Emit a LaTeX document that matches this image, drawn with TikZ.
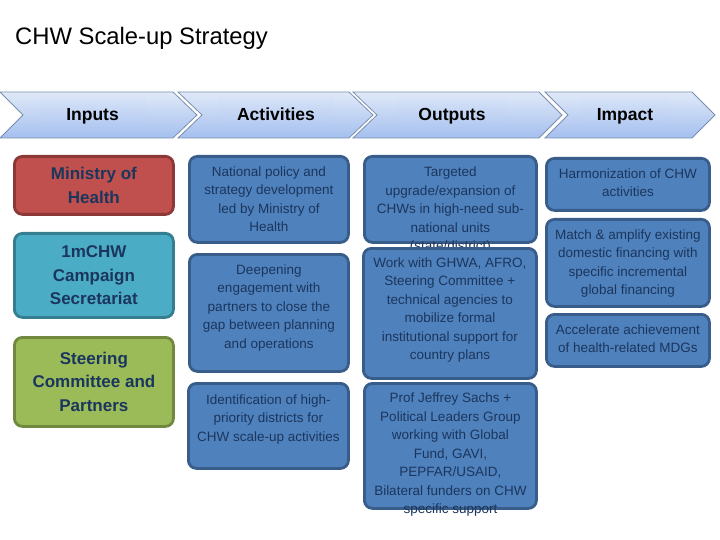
\documentclass[tikz,border=0pt]{standalone}
\usepackage{fontspec}
\setmainfont{Liberation Sans}
\definecolor{boxblue}{HTML}{4F81BD}
\definecolor{boxblueline}{HTML}{385D8A}
\definecolor{navy}{HTML}{1B365D}
\definecolor{inred}{HTML}{C0504D}
\definecolor{inredline}{HTML}{8C3836}
\definecolor{incyan}{HTML}{4BACC6}
\definecolor{incyanline}{HTML}{357D91}
\definecolor{ingreen}{HTML}{9BBB59}
\definecolor{ingreenline}{HTML}{71893F}
\definecolor{chevtop}{HTML}{E0E9F8}
\definecolor{chevbot}{HTML}{A4BFEE}
\definecolor{chevline}{HTML}{7A8FB0}
\definecolor{labtop}{HTML}{D6E2F7}
\definecolor{labbot}{HTML}{B0C8F1}
\tikzset{
  chev/.style={top color=chevtop, bottom color=chevbot, draw=chevline, line width=0.8pt},
  chevlab/.style={anchor=base, font=\fontsize{17.5}{20}\selectfont\bfseries, text=black, inner sep=0pt},
  labrect/.style={top color=labtop, bottom color=labbot, draw=none},
  anybox/.style={rounded corners=8pt, line width=2.8pt, inner sep=0pt, anchor=north west},
  bluebox/.style={anybox, fill=boxblue, draw=boxblueline},
  inbox/.style={anybox, align=center, text=navy, font=\fontsize{17}{23.5}\selectfont\bfseries},
  txt/.style={anchor=north, align=center, inner sep=0pt, text=navy, font=\fontsize{13.5}{18.5}\selectfont},
}
\begin{document}
\begin{tikzpicture}[x=1pt,y=-1pt]
\useasboundingbox (0,0) rectangle (720,540);
\fill[white] (0,0) rectangle (720,540);

% title
\node[anchor=base west, inner sep=0pt, font=\fontsize{23.8}{27}\selectfont] (title) at (15,44.3) {CHW Scale-up Strategy};

% chevrons
\shade[chev] (0,92) -- (173,92) -- (197,115) -- (173,138) -- (0,138) -- (23,115) -- cycle;
\shade[chev] (178,92) -- (349,92) -- (373,115) -- (349,138) -- (178,138) -- (202,115) -- cycle;
\shade[chev] (353,92) -- (539,92) -- (562,115) -- (539,138) -- (353,138) -- (377,115) -- cycle;
\shade[chev] (545,92) -- (692,92) -- (715,115) -- (692,138) -- (545,138) -- (568,115) -- cycle;
\shade[labrect] (40,98) rectangle (145,128);
\shade[labrect] (218,98) rectangle (333,128);
\shade[labrect] (397,98) rectangle (507,128);
\shade[labrect] (580,98) rectangle (670,128);
\node[chevlab] (hin) at (92.5,121) {Inputs};
\node[chevlab] (hact) at (276,121) {Activities};
\node[chevlab] (hout) at (452,121) {Outputs};
\node[chevlab] (himp) at (625,121) {Impact};

% inputs
\node[inbox, fill=inred, draw=inredline, minimum width=159pt, minimum height=58pt] (i1) at (13,155) {Ministry of\\Health};
\node[inbox, fill=incyan, draw=incyanline, minimum width=159pt, minimum height=84pt] (i2) at (13,232) {1mCHW\\Campaign\\Secretariat};
\node[inbox, fill=ingreen, draw=ingreenline, minimum width=159pt, minimum height=89pt] (i3) at (13,336) {Steering\\Committee and\\Partners};

% activities
\node[bluebox, minimum width=159pt, minimum height=86pt] (a1) at (188,155) {};
\node[txt] (a1t) at ([yshift=-8pt]a1.north) {\strut National policy and\\strategy development\\led by Ministry of\\Health};
\node[bluebox, minimum width=159pt, minimum height=117pt] (a2) at (188,253) {};
\node[txt] (a2t) at ([yshift=-8pt]a2.north) {\strut Deepening\\engagement with\\partners to close the\\gap between planning\\and operations};
\node[bluebox, minimum width=160pt, minimum height=85pt] (a3) at (187,382) {};
\node[txt] (a3t) at ([yshift=-9pt]a3.north) {\strut Identification of high-\\priority districts for\\CHW scale-up activities};

% outputs
\node[bluebox, minimum width=172pt, minimum height=86pt] (o1) at (363,155) {};
\node[txt] (o1t) at ([yshift=-8.5pt]o1.north) {\strut Targeted\\upgrade/expansion of\\CHWs in high-need sub-\\national units\\(state/district)};
\node[bluebox, minimum width=173pt, minimum height=130pt] (o2) at (362,247) {};
\node[txt] (o2t) at ([yshift=-7pt]o2.north) {\strut Work with GHWA, AFRO,\\Steering Committee +\\technical agencies to\\mobilize formal\\institutional support for\\country plans};
\node[bluebox, minimum width=172pt, minimum height=125pt] (o3) at (363,382) {};
\node[txt] (o3t) at ([yshift=-7.5pt]o3.north) {\strut Prof Jeffrey Sachs +\\Political Leaders Group\\working with Global\\Fund, GAVI,\\PEPFAR/USAID,\\Bilateral funders on CHW\\specific support};

% impact
\node[bluebox, minimum width=163pt, minimum height=52pt] (p1) at (545,157) {};
\node[txt] (p1t) at ([yshift=-8pt]p1.north) {\strut Harmonization of CHW\\activities};
\node[bluebox, minimum width=163pt, minimum height=87pt] (p2) at (545,218) {};
\node[txt] (p2t) at ([yshift=-8pt]p2.north) {\strut Match \& amplify existing\\domestic financing with\\specific incremental\\global financing};
\node[bluebox, minimum width=163pt, minimum height=52pt] (p3) at (545,313) {};
\node[txt] (p3t) at ([yshift=-8pt]p3.north) {\strut Accelerate achievement\\of health-related MDGs};
\end{tikzpicture}
\end{document}
